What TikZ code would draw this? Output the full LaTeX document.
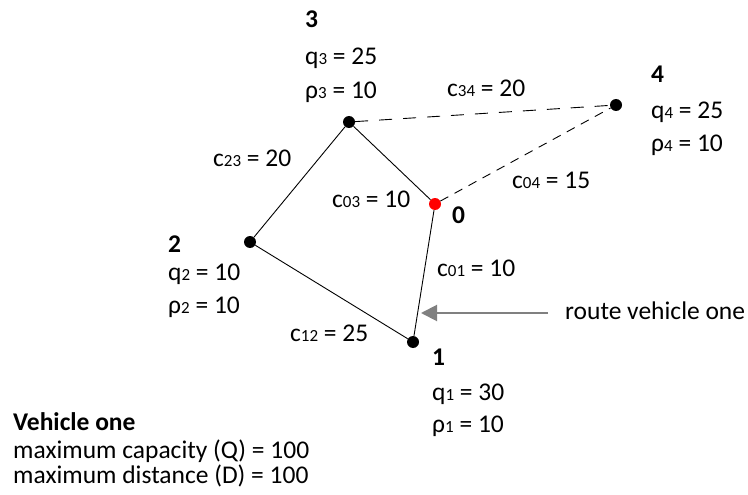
\documentclass[tikz,border=0pt]{standalone}
\usepackage{fontspec}
\setmainfont{Carlito}
\usetikzlibrary{arrows.meta}
\newcommand{\subx}[1]{{\fontsize{17}{17}\selectfont #1}}
\begin{document}
\begin{tikzpicture}[x=1pt,y=-1pt,
  dot/.style={circle,fill=black,inner sep=0pt,minimum size=12pt},
  depot/.style={circle,fill=red,inner sep=0pt,minimum size=12pt},
  lbl/.style={anchor=base west,inner sep=0pt,font=\fontsize{25.5}{30}\selectfont},
  blbl/.style={lbl,font=\fontsize{25.5}{30}\selectfont\bfseries},
  route/.style={black,line width=0.9pt},
  longdash/.style={black,line width=0.9pt,dash pattern=on 13pt off 11pt},
  shortdash/.style={black,line width=0.9pt,dash pattern=on 9pt off 7pt},
  pointer/.style={draw=gray,line width=2pt,-{Triangle[length=16pt,width=16pt]}}
]
\useasboundingbox (0,0) rectangle (748,495);
% vertices
\node[dot] (n3) at (349,122) {};
\node[dot] (n4) at (616,105) {};
\node[dot] (n2) at (250,242) {};
\node[dot] (n1) at (413,342) {};
\node[depot] (n0) at (435,204) {};
% edges
\draw[route] (n3) -- (n2);
\draw[route] (n2) -- (n1);
\draw[route] (n1) -- (n0);
\draw[route] (n0) -- (n3);
\draw[longdash] (n3) -- (n4);
\draw[shortdash] (n0) -- (n4);
% vertex labels
\node[blbl] (t3) at (305,28) {3};
\node[lbl] (q3) at (305,65) {q\subx{3} = 25};
\node[lbl] (p3) at (305,99) {ρ\subx{3} = 10};
\node[blbl] (t4) at (651,83) {4};
\node[lbl] (q4) at (651,118) {q\subx{4} = 25};
\node[lbl] (p4) at (651,152) {ρ\subx{4} = 10};
\node[blbl] (t0) at (452,223) {0};
\node[blbl] (t2) at (168,252) {2};
\node[lbl] (q2) at (168,280) {q\subx{2} = 10};
\node[lbl] (p2) at (168,313) {ρ\subx{2} = 10};
\node[blbl] (t1) at (432,365) {1};
\node[lbl] (q1) at (432,400) {q\subx{1} = 30};
\node[lbl] (p1) at (432,432) {ρ\subx{1} = 10};
% edge labels
\node[lbl] (c34) at (447,96) {c\subx{34} = 20};
\node[lbl] (c23) at (213,167) {c\subx{23} = 20};
\node[lbl] (c03) at (332,207) {c\subx{03} = 10};
\node[lbl] (c04) at (512,188) {c\subx{04} = 15};
\node[lbl] (c01) at (437,276) {c\subx{01} = 10};
\node[lbl] (c12) at (290,341) {c\subx{12} = 25};
% pointer
\node[lbl] (rv) at (565,319) {route vehicle one};
\coordinate (ps) at (548,313);
\coordinate (pe) at (421,313);
\draw[pointer] (ps) -- (pe);
% legend
\node[blbl] (v1) at (13,430) {Vehicle one};
\node[lbl] (mq) at (13,458) {maximum capacity (Q) = 100};
\node[lbl] (md) at (13,483) {maximum distance (D) = 100};
\end{tikzpicture}
\end{document}
